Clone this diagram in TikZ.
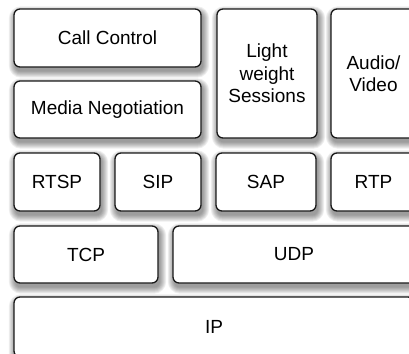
\documentclass[tikz,border=0pt]{standalone}
\usepackage{fontspec}
\setmainfont{Liberation Sans}
\usetikzlibrary{backgrounds,calc}
\tikzset{
  layer/.style={draw=black!90, fill=white, line width=1.3pt, rounded corners=6pt,
    inner sep=0pt, align=center, font=\fontsize{19}{22.5}\selectfont},
}
\begin{document}
\begin{tikzpicture}[x=1pt,y=-1pt]
\useasboundingbox (0,0) rectangle (409,353);
\clip (0,0) rectangle (409,353);
% application and session layers
\node[layer, minimum width=187pt, minimum height=58pt] (cc) at (107.5,38) {Call Control};
\node[layer, minimum width=187pt, minimum height=57pt] (mn) at (107.5,109.5) {Media Negotiation};
\node[layer, minimum width=100pt, minimum height=129pt] (lw) at (267,73.5) {Light\\weight\\Sessions};
\node[layer, minimum width=85pt, minimum height=129pt] (av) at (373.5,73.5) {Audio/\\Video};
% protocols
\node[layer, minimum width=86pt, minimum height=58pt] (rtsp) at (57,182) {RTSP};
\node[layer, minimum width=86pt, minimum height=58pt] (sip) at (158,182) {SIP};
\node[layer, minimum width=100pt, minimum height=58pt] (sap) at (266,182) {SAP};
\node[layer, minimum width=85pt, minimum height=58pt] (rtp) at (373.5,182) {RTP};
% transport
\node[layer, minimum width=144pt, minimum height=57pt] (tcp) at (86,254.5) {TCP};
\node[layer, minimum width=242pt, minimum height=57pt] (udp) at (294,254.5) {UDP};
% network
\node[layer, minimum width=400pt, minimum height=60pt] (ip) at (214,327) {IP};
% soft drop shadows: stacked translucent rounded rectangles
\begin{scope}[on background layer]
  \foreach \n in {cc,mn,lw,av,rtsp,sip,sap,rtp,tcp,udp,ip}{
    \foreach \s in {0,1,...,6}{
      \fill[black, opacity=0.065, rounded corners={6pt+\s pt}]
        ($(\n.north west)+(1.5-\s,4-\s)$) rectangle ($(\n.south east)+(1.5+\s,4+\s)$);
    }
  }
\end{scope}
\end{tikzpicture}
\end{document}
